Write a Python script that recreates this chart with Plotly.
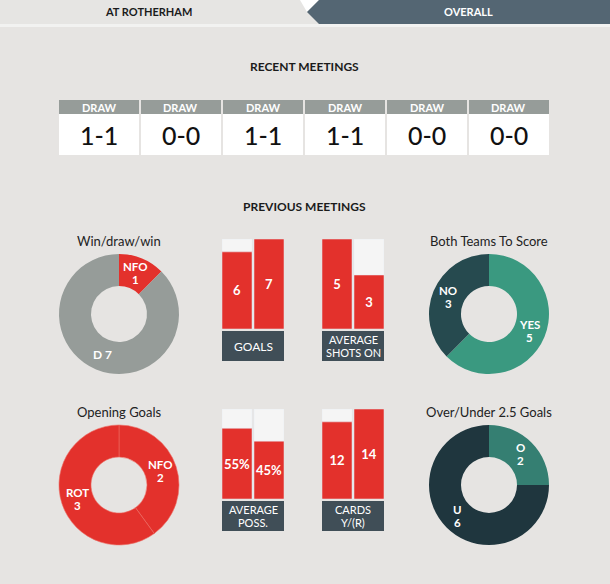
import math
import plotly.graph_objects as go

W, H = 610, 584
FONT = "Lato"

# ---------------- data ----------------
recent_results = ["DRAW", "DRAW", "DRAW", "DRAW", "DRAW", "DRAW"]
recent_scores = ["1-1", "0-0", "1-1", "1-1", "0-0", "0-0"]

wdw_labels = ["NFO", "D"]
wdw_values = [1, 7]
wdw_seps = ["<br>", " "]

btts_labels = ["YES", "NO"]
btts_values = [5, 3]

opening_labels = ["NFO", "ROT"]
opening_values = [2, 3]

ou_labels = ["O", "U"]
ou_values = [2, 6]

goals = [6, 7]
shots_on = [5, 3]
possession = [55, 45]
cards = [12, 14]

# ---------------- helpers ----------------
def fx(x):
    return x / W

def fy(y):
    return 1 - y / H

BG = "#e6e4e2"
RED = "#e3312c"
GREY = "#969c99"
BOX = "#404e57"
BARBG = "#f5f5f5"

fig = go.Figure()
shapes = []
annotations = []

def add_text(x, y, text, size, color, bold=False, family=FONT, weight=None):
    w = weight if weight is not None else ("bold" if bold else "normal")
    annotations.append(dict(
        x=fx(x), y=fy(y), xref="paper", yref="paper", text=text, showarrow=False,
        xanchor="center", yanchor="middle",
        font=dict(family=family, size=size, color=color, weight=w),
    ))

def rect(x0, y0, x1, y1, color):
    shapes.append(dict(type="rect", xref="paper", yref="paper", x0=fx(x0), x1=fx(x1),
                       y0=fy(y1), y1=fy(y0), fillcolor=color, line=dict(width=0), layer="below"))

def path(points, color):
    d = "M " + " L ".join(f"{fx(x)},{fy(y)}" for x, y in points) + " Z"
    shapes.append(dict(type="path", xref="paper", yref="paper", path=d, fillcolor=color,
                       line=dict(width=0), layer="below"))

# ---------------- header ----------------
rect(0, 0, W, 24, "#e6e5e3")
rect(0, 24, W, 27, "#f2f2f1")
path([(300, 0), (319, 0), (307, 12)], "#ffffff")
path([(319, 0), (W, 0), (W, 24), (319, 24), (307, 12)], "#546673")
add_text(148, 12, "AT ROTHERHAM", 11, "#1b1b1b", bold=True)
add_text(468, 12, "OVERALL", 11, "#ffffff", bold=True)

# ---------------- recent meetings ----------------
add_text(304, 66, "RECENT MEETINGS", 12, "#1b1b1b", bold=True)
for i, (res, sc) in enumerate(zip(recent_results, recent_scores)):
    x0 = 59 + 82 * i
    rect(x0, 100, x0 + 80, 114, GREY)
    rect(x0, 114, x0 + 80, 155, "#ffffff")
    add_text(x0 + 40, 107.5, res, 11, "#ffffff", bold=True)
    add_text(x0 + 40, 135, sc, 25, "#111111", weight=500)

add_text(304, 207, "PREVIOUS MEETINGS", 12, "#1b1b1b", bold=True)

# ---------------- donuts ----------------
R_OUT, R_IN = 60, 28

def donut(cx, cy, title, labels, values, colors, seps=None, line=None):
    fig.add_trace(go.Pie(
        labels=labels, values=values, sort=False, direction="clockwise", rotation=0,
        hole=R_IN / R_OUT, textinfo="none", hoverinfo="label+value",
        marker=dict(colors=colors, line=line or dict(width=0)),
        domain=dict(x=[fx(cx - R_OUT), fx(cx + R_OUT)], y=[fy(cy + R_OUT), fy(cy - R_OUT)]),
        showlegend=False,
    ))
    add_text(cx, cy - R_OUT - 13, title, 13, "#222222")
    total = sum(values)
    cum = 0
    rmid = (R_OUT + R_IN) / 2
    for k, (lab, v) in enumerate(zip(labels, values)):
        mid = (cum + v / 2) / total * 2 * math.pi
        cum += v
        tx = cx + rmid * math.sin(mid)
        ty = cy - rmid * math.cos(mid)
        sep = seps[k] if seps else "<br>"
        if sep == "<br>":
            add_text(tx, ty - 6.5, lab, 11.5, "#ffffff", bold=True)
            add_text(tx, ty + 6.5, str(v), 11.5, "#ffffff", bold=True)
        else:
            add_text(tx, ty, f"{lab}{sep}{v}", 12, "#ffffff", bold=True)

donut(119, 314, "Win/draw/win", wdw_labels, wdw_values, [RED, GREY], seps=wdw_seps)
donut(489, 314, "Both Teams To Score", btts_labels, btts_values, ["#3a9980", "#264a4f"])
donut(119, 485, "Opening Goals", opening_labels, opening_values, [RED, RED],
      line=dict(width=0.6, color="#ec6b63"))
donut(489, 485, "Over/Under 2.5 Goals", ou_labels, ou_values, ["#357f72", "#1f363e"])

# ---------------- bar groups ----------------
bar_groups = [
    dict(values=goals, ymax=max(goals), fmt="{}", title="GOALS", x0=222, top=239),
    dict(values=shots_on, ymax=max(shots_on), fmt="{}", title="AVERAGE<br>SHOTS ON", x0=322, top=239),
    dict(values=possession, ymax=70, fmt="{}%", title="AVERAGE<br>POSS.", x0=222, top=409),
    dict(values=cards, ymax=max(cards), fmt="{}", title="CARDS<br>Y/(R)", x0=322, top=409),
]
BAR_H = 90
GROUP_W = 62
layout_axes = {}
for n, g in enumerate(bar_groups, start=1):
    xa = "x" if n == 1 else f"x{n}"
    ya = "y" if n == 1 else f"y{n}"
    xkey = "xaxis" if n == 1 else f"xaxis{n}"
    ykey = "yaxis" if n == 1 else f"yaxis{n}"
    bottom = g["top"] + BAR_H
    layout_axes[xkey] = dict(domain=[fx(g["x0"]), fx(g["x0"] + GROUP_W)], range=[-0.46875, 1.46875],
                             visible=False, fixedrange=True, anchor=ya)
    layout_axes[ykey] = dict(domain=[fy(bottom), fy(g["top"])], range=[0, g["ymax"]],
                             visible=False, fixedrange=True, anchor=xa)
    xs = list(range(len(g["values"])))
    fig.add_trace(go.Bar(x=xs, y=[g["ymax"]] * len(xs), width=0.9375, marker_color=BARBG,
                         xaxis=xa, yaxis=ya, hoverinfo="skip", showlegend=False))
    fig.add_trace(go.Bar(x=xs, y=g["values"], width=0.9375, marker_color=RED,
                         text=[g["fmt"].format(v) for v in g["values"]], textposition="inside",
                         insidetextanchor="middle", constraintext="none", textangle=0,
                         textfont=dict(family=FONT, size=13, color="#ffffff", weight="bold"),
                         xaxis=xa, yaxis=ya, showlegend=False))
    rect(g["x0"], bottom + 2, g["x0"] + GROUP_W, bottom + 32, BOX)
    lines = g["title"].split("<br>")
    cyb = bottom + 17
    if len(lines) == 1:
        add_text(g["x0"] + GROUP_W / 2, cyb, lines[0], 12, "#ffffff")
    else:
        add_text(g["x0"] + GROUP_W / 2, cyb - 6.5, lines[0], 11, "#ffffff")
        add_text(g["x0"] + GROUP_W / 2, cyb + 6.5, lines[1], 11, "#ffffff")

fig.update_layout(
    width=W, height=H, margin=dict(l=0, r=0, t=0, b=0),
    paper_bgcolor=BG, plot_bgcolor="rgba(0,0,0,0)",
    barmode="overlay", shapes=shapes, annotations=annotations,
    font=dict(family=FONT), showlegend=False, **layout_axes,
)

fig.write_html("out.html", config={"displayModeBar": False})
